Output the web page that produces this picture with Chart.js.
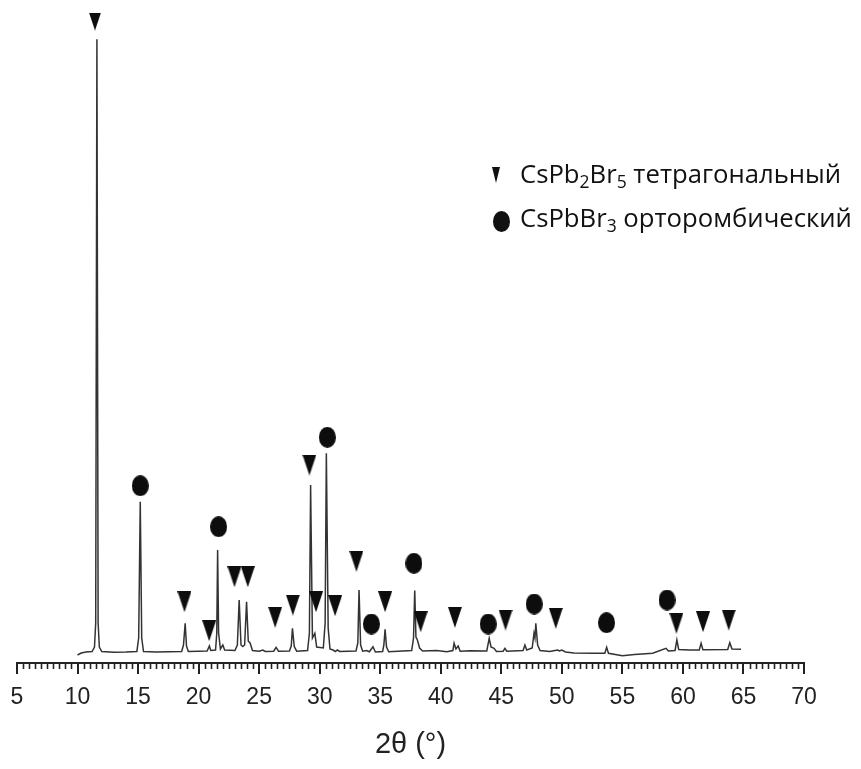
<!DOCTYPE html>
<html><head><meta charset="utf-8">
<script src="https://cdn.jsdelivr.net/npm/chart.js@4"></script>
<style>
html,body{margin:0;padding:0;background:#fff;}
#wrap{position:relative;width:861px;height:769px;overflow:hidden;}
#c{position:absolute;left:0;top:0;}
.leg{position:absolute;left:520px;font-family:"Open Sans",sans-serif;font-size:25.7px;color:#111;white-space:nowrap;line-height:1;}
.leg sub{font-size:68%;vertical-align:-0.28em;line-height:0;}
.mk{position:absolute;}
</style></head><body>
<div id="wrap">
<canvas id="c" width="861" height="769"></canvas>
<div class="mk" id="legTri" style="left:492px;top:167px;width:0;height:0;border-left:4.5px solid transparent;border-right:4.5px solid transparent;border-top:16px solid #111;"></div>
<div class="leg" id="leg1" style="top:161px;">CsPb<sub>2</sub>Br<sub>5</sub> тетрагональный</div>
<div class="mk" id="legCir" style="left:493px;top:211px;width:17px;height:21px;border-radius:50%;background:#111;"></div>
<div class="leg" id="leg2" style="top:205px;">CsPbBr<sub>3</sub> орторомбический</div>
</div>
<script>
// ---- data ----
const twoTheta = [10.0,10.3,10.7,11.2,11.4,11.5,11.6,11.7,11.8,12.0,13.0,14.0,14.9,15.05,15.18,15.3,15.45,16.5,17.5,18.6,18.75,18.89,19.0,19.15,20.0,20.7,20.89,21.0,21.4,21.5,21.57,21.65,21.8,22.0,22.15,23.0,23.2,23.35,23.5,23.65,23.8,23.96,24.1,24.25,24.45,25.0,25.3,25.5,26.2,26.4,26.6,27.5,27.65,27.75,27.9,28.1,29.0,29.15,29.25,29.4,29.6,29.75,30.3,30.45,30.55,30.7,30.85,31.1,31.3,31.45,31.65,33.0,33.15,33.25,33.38,33.55,33.87,34.1,34.4,34.6,35.2,35.3,35.4,35.52,35.7,37.6,37.75,37.85,37.95,38.07,38.25,38.5,39.66,40.5,41.0,41.1,41.25,41.44,41.6,42.4,43.8,44.0,44.15,44.4,44.6,45.15,45.3,45.45,46.8,46.95,47.1,47.55,47.7,47.78,47.85,48.0,48.2,49.0,49.65,49.8,50.0,50.3,51.0,52.5,53.55,53.7,53.85,55.0,56.0,57.5,58.6,58.8,59.35,59.5,59.65,60.5,61.35,61.5,61.65,63.7,63.87,64.05,64.8];
const intensity = [80,100,110,115,160,400,6237,400,160,115,108,110,115,250,1613,250,115,110,112,115,180,397,170,115,118,120,170,125,130,300,1130,300,140,180,130,125,180,630,180,165,180,613,220,200,125,118,130,115,118,157,118,120,170,347,165,118,125,300,1780,250,297,160,150,400,2097,350,140,130,115,130,115,120,200,730,180,118,125,112,163,110,115,180,337,160,112,125,250,725,260,230,150,120,125,112,125,197,140,170,118,123,120,247,160,147,115,118,147,118,125,180,130,150,297,250,397,180,125,115,130,120,130,110,100,97,97,157,97,73,85,97,147,120,125,230,135,130,130,197,132,135,203,140,137];
// CsPb2Br5 (tetragonal) markers
const triX = [11.44,18.83,20.87,22.96,24.06,26.32,27.78,29.15,29.70,31.27,33.03,35.40,38.34,41.17,45.35,49.50,59.46,61.66,63.78];
const triY = [6430,613,323,863,863,457,580,1980,613,573,1017,613,413,457,430,447,397,413,430];
// CsPbBr3 (orthorhombic) markers
const cirX = [15.18,21.65,30.63,34.27,37.78,43.92,47.72,53.69,58.69];
const cirY = [1773,1363,2257,390,997,390,590,403,630];
const xMajorTicks = [5,10,15,20,25,30,35,40,45,50,55,60,65,70];
const xMinorStep = 0.5;
const xTitle = '2θ (°)';

function triImg(w,h){const c=document.createElement('canvas');c.width=w;c.height=h;const g=c.getContext('2d');g.fillStyle='#0d0d0d';g.beginPath();g.moveTo(0,0);g.lineTo(w,0);g.lineTo(w/2,h);g.closePath();g.fill();return c;}
function ellImg(w,h){const c=document.createElement('canvas');c.width=w;c.height=h;const g=c.getContext('2d');g.fillStyle='#0d0d0d';g.beginPath();g.ellipse(w/2,h/2,w/2,h/2,0,0,Math.PI*2);g.fill();return c;}

const minorTicks={id:'minorTicks',afterDraw(chart){const s=chart.scales.x;const g=chart.ctx;g.save();g.strokeStyle='#222';g.lineWidth=1.6;
  for(let i=0;;i++){const v=s.min+i*xMinorStep;if(v>s.max+1e-9)break;if(xMajorTicks.some(t=>Math.abs(t-v)<1e-6))continue;
    const px=Math.round(s.getPixelForValue(v))+0.5;g.beginPath();g.moveTo(px,s.top);g.lineTo(px,s.top+6);g.stroke();}
  g.restore();}};

new Chart(document.getElementById('c'),{
  type:'scatter',
  data:{datasets:[
    {data:twoTheta.map((x,i)=>({x,y:intensity[i]})),showLine:true,borderColor:'#333',borderWidth:1.5,pointRadius:0,tension:0,order:3},
    {data:triX.map((x,i)=>({x,y:triY[i]})),pointStyle:triImg(14,21),pointRadius:10,order:1},
    {data:cirX.map((x,i)=>({x,y:cirY[i]})),pointStyle:ellImg(17,21),pointRadius:10,order:2}
  ]},
  options:{
    responsive:false,animation:false,devicePixelRatio:1,
    layout:{padding:{left:17,right:57,top:13,bottom:0}},
    plugins:{legend:{display:false},tooltip:{enabled:false}},
    scales:{
      x:{type:'linear',min:5,max:70,
        afterBuildTicks:(s)=>{s.ticks=xMajorTicks.map(v=>({value:v}));},
        afterFit:(s)=>{s.paddingLeft=0;s.paddingRight=0;s.height=106;},
        border:{display:true,color:'#222',width:2},
        grid:{display:true,drawOnChartArea:false,drawTicks:true,tickLength:11,color:'#222',lineWidth:2},
        ticks:{autoSkip:false,maxRotation:0,padding:10,color:'#222',font:{family:'"Liberation Sans", Arial, sans-serif',size:23}},
        title:{display:true,text:xTitle,color:'#222',font:{family:'"Liberation Sans", Arial, sans-serif',size:29},padding:{top:0,bottom:7}}
      },
      y:{display:false,min:0,max:6500}
    }
  },
  plugins:[minorTicks]
});
</script>
</body></html>
